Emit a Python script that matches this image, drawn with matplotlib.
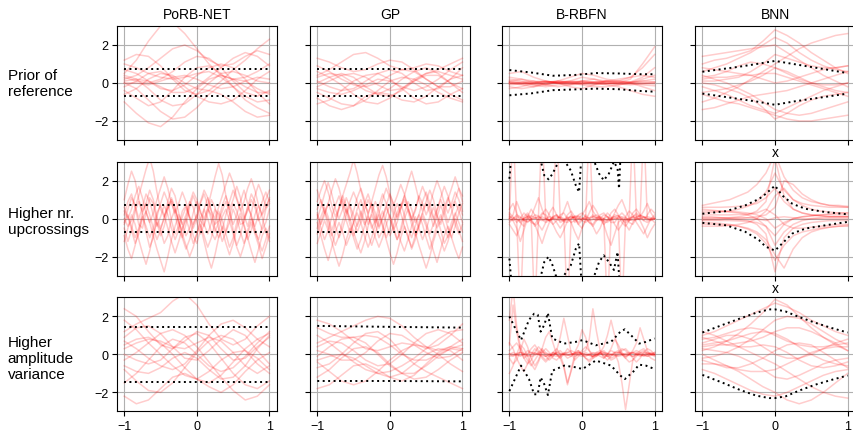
import numpy as np
import matplotlib
matplotlib.use("Agg")
import matplotlib.pyplot as plt

plt.rcParams['font.family'] = ['Liberation Sans', 'DejaVu Sans']

titles = ["PoRB-NET", "GP", "B-RBFN", "BNN"]
row_labels = ["Prior of\nreference", "Higher nr.\nupcrossings", "Higher\namplitude\nvariance"]

# x grids of the sampled functions
x13 = np.linspace(-1, 1, 13)
x17 = np.linspace(-1, 1, 17)
x41 = np.linspace(-1, 1, 41)

# ---------------- row 1: prior of reference ----------------
porb_prior = [
    [0.2, 0.4, 0.8, 1.3, 1.8, 2.0, 1.7, 1.2, 0.9, 1.0, 1.4, 1.7, 1.5],
    [0.0, -0.3, -0.9, -1.5, -1.9, -1.8, -1.3, -0.6, -0.1, 0.2, 0.1, -0.3, -0.6],
    [1.0, 0.8, 0.5, 0.3, 0.2, 0.3, 0.5, 0.6, 0.3, -0.2, -0.7, -1.0, -0.9],
    [0.5, 1.2, 2.2, 3.0, 3.2, 2.6, 1.8, 1.0, 0.4, 0.2, 0.3, 0.6, 1.0],
    [-0.4, -0.8, -1.2, -1.0, -0.4, 0.3, 0.8, 0.9, 0.5, -0.2, -0.9, -1.3, -1.6],
    [0.1, 0.2, 0.1, -0.2, -0.5, -0.5, -0.2, 0.3, 0.8, 1.3, 1.6, 1.4, 0.9],
    [-1.0, -1.6, -2.1, -2.3, -1.8, -1.0, -0.3, 0.2, 0.4, 0.2, -0.2, -0.5, -0.5],
    [0.7, 0.5, 0.1, -0.3, -0.4, -0.1, 0.4, 0.8, 1.0, 0.8, 0.2, -0.5, -1.1],
    [0.3, 0.1, 0.0, 0.2, 0.6, 1.1, 1.4, 1.3, 0.8, 0.1, -0.5, -0.7, -0.4],
    [-0.2, 0.1, 0.5, 0.6, 0.3, -0.2, -0.7, -1.0, -1.1, -0.9, -0.4, 0.2, 0.6],
    [1.2, 1.5, 1.4, 0.9, 0.2, -0.4, -0.6, -0.4, 0.1, 0.7, 1.2, 1.8, 2.3],
    [-0.6, -0.3, 0.2, 0.5, 0.4, 0.0, -0.3, -0.4, -0.6, -1.0, -1.5, -1.8, -1.7],
    [0.0, 0.0, -0.1, 0.1, 0.3, 0.4, 0.2, -0.1, -0.3, -0.2, 0.1, 0.3, 0.2],
    [0.4, 0.2, -0.3, -0.9, -1.2, -1.1, -0.6, 0.0, 0.5, 0.6, 0.4, 0.1, 0.0],
]
gp_prior = [
    [0.4, 0.7, 1.1, 1.5, 1.6, 1.3, 0.9, 0.7, 0.8, 1.0, 0.9, 0.6, 0.4],
    [-0.5, -0.8, -1.1, -1.2, -0.9, -0.4, 0.1, 0.3, 0.2, -0.1, -0.5, -0.8, -1.0],
    [0.9, 0.6, 0.2, -0.1, -0.2, 0.0, 0.4, 0.7, 0.6, 0.2, -0.2, -0.2, 0.1],
    [-1.1, -0.9, -0.4, 0.1, 0.4, 0.5, 0.2, -0.3, -0.8, -1.1, -1.0, -0.6, -0.3],
    [0.1, -0.2, -0.4, -0.3, 0.1, 0.5, 0.7, 0.5, 0.0, -0.4, -0.3, 0.2, 0.8],
    [-0.2, 0.1, 0.4, 0.5, 0.3, -0.1, -0.4, -0.3, 0.1, 0.5, 0.6, 0.4, 0.2],
    [0.6, 0.3, -0.1, -0.6, -1.0, -1.1, -0.8, -0.3, 0.2, 0.5, 0.7, 1.0, 1.3],
    [-0.8, -1.2, -1.4, -1.2, -0.7, -0.5, -0.6, -0.9, -1.0, -0.7, -0.2, 0.2, 0.4],
    [1.3, 1.1, 0.8, 0.6, 0.7, 1.0, 1.2, 1.1, 0.7, 0.2, -0.2, -0.6, -0.9],
    [0.0, 0.3, 0.5, 0.3, -0.2, -0.6, -0.7, -0.4, 0.1, 0.4, 0.4, 0.0, -0.5],
    [-0.3, -0.5, -0.6, -0.4, -0.1, 0.2, 0.1, -0.2, -0.4, -0.2, 0.2, 0.7, 1.1],
    [0.3, 0.5, 0.4, 0.0, -0.4, -0.6, -0.3, 0.2, 0.6, 0.8, 0.5, 0.0, -0.3],
]
rbfn_prior = [
    [0.0, 0.05, 0.1, 0.05, 0.0, -0.05, 0.0, 0.05, 0.05, 0.0, -0.05, 0.0, 0.05],
    [-0.1, -0.05, 0.0, 0.05, 0.05, 0.0, -0.05, -0.1, -0.05, 0.0, 0.05, 0.1, 0.05],
    [0.5, 0.6, 0.3, 0.1, 0.0, 0.1, 0.3, 0.2, 0.0, -0.1, 0.0, 0.2, 0.4],
    [-0.3, -0.2, 0.0, 0.1, 0.0, -0.2, -0.3, -0.1, 0.1, 0.2, 0.3, 0.8, 1.5],
    [0.1, 0.2, 0.1, -0.1, -0.2, -0.1, 0.1, 0.2, 0.1, 0.0, 0.2, 1.0, 1.9],
    [0.2, 0.1, -0.1, -0.2, -0.1, 0.0, 0.1, 0.0, -0.1, -0.2, -0.4, -0.6, -0.7],
    [0.0, -0.1, -0.2, -0.1, 0.1, 0.3, 0.5, 0.4, 0.2, 0.1, 0.0, 0.1, 0.2],
    [0.05, 0.0, -0.05, 0.0, 0.05, 0.1, 0.05, 0.0, -0.05, 0.0, 0.05, 0.0, -0.05],
    [-0.05, 0.0, 0.05, 0.1, 0.0, -0.1, -0.05, 0.0, 0.1, 0.05, 0.0, -0.1, -0.15],
    [0.3, 0.2, 0.0, -0.1, 0.0, 0.05, 0.0, -0.05, 0.0, 0.1, 0.3, 0.4, 0.3],
    [-0.2, -0.3, -0.2, 0.0, 0.1, 0.0, -0.1, -0.2, -0.2, -0.1, 0.0, -0.2, -0.4],
    [0.1, 0.0, 0.0, 0.05, 0.1, 0.05, 0.0, 0.05, 0.1, 0.1, 0.05, 0.3, 0.8],
    [0.0, -0.05, -0.1, -0.05, 0.0, 0.05, 0.1, 0.05, 0.0, -0.05, -0.1, -0.05, 0.0],
]
bnn_prior = [
    [0.6, 0.8, 1.0, 1.3, 1.6, 2.0, 2.4, 2.1, 1.6, 1.2, 0.9, 0.7, 0.6],
    [-0.2, -0.4, -0.6, -0.9, -1.2, -1.4, -1.6, -1.3, -1.0, -0.7, -0.4, -0.2, 0.0],
    [1.4, 1.5, 1.6, 1.7, 1.8, 1.9, 2.0, 1.6, 1.2, 0.8, 0.4, 0.1, -0.2],
    [-1.0, -0.8, -0.5, -0.2, 0.2, 0.6, 1.0, 1.4, 1.8, 2.1, 2.3, 2.5, 2.6],
    [0.2, 0.3, 0.3, 0.4, 0.4, 0.5, 0.5, 0.3, 0.1, -0.1, -0.3, -0.5, -0.7],
    [0.4, 0.2, 0.0, -0.3, -0.6, -1.0, -1.4, -1.6, -1.7, -1.6, -1.4, -1.2, -1.0],
    [-0.5, -0.4, -0.3, -0.1, 0.1, 0.4, 0.8, 0.6, 0.3, 0.0, -0.2, -0.4, -0.5],
    [1.0, 1.2, 1.3, 1.5, 1.7, 2.2, 2.8, 2.5, 2.1, 1.6, 1.2, 0.8, 0.5],
    [0.0, -0.1, -0.3, -0.5, -0.8, -1.3, -1.9, -1.6, -1.2, -0.9, -0.7, -0.6, -0.5],
    [0.8, 0.7, 0.6, 0.5, 0.4, 0.2, 0.0, 0.1, 0.3, 0.5, 0.7, 0.8, 0.9],
    [-1.4, -1.3, -1.1, -0.9, -0.7, -0.6, -0.5, -0.4, -0.2, 0.0, 0.2, 0.4, 0.6],
    [0.3, 0.4, 0.6, 0.9, 1.1, 1.0, 0.8, 0.5, 0.2, 0.0, -0.1, -0.1, 0.0],
    [-0.6, -0.8, -1.0, -1.1, -1.3, -1.5, -1.7, -1.9, -2.0, -2.0, -1.9, -1.8, -1.7],
    [0.1, 0.1, 0.2, 0.3, 0.6, 1.0, 1.5, 1.3, 1.1, 0.9, 0.8, 0.8, 0.9],
]

# ---------------- row 2: higher nr. upcrossings ----------------
porb_up = [
    [0.2, 0.9, 1.3, 0.6, -0.3, -0.5, 0.3, 1.1, 0.8, -0.2, -0.9, -0.4, 0.5, 0.9, 0.2, -0.6, -1.0, -0.3, 0.6, 1.2, 0.7, -0.1, -0.4, 0.3, 1.0, 0.6, -0.5, -1.2, -0.7, 0.2, 0.8, 0.4, -0.3, -0.2, 0.6, 1.3, 0.9, 0.0, -0.6, -0.2, 0.5],
    [-0.5, -1.2, -0.6, 0.4, 0.9, 0.3, -0.7, -1.5, -1.0, 0.1, 0.8, 1.4, 0.9, -0.1, -0.8, -0.4, 0.4, 0.7, 0.0, -0.9, -1.3, -0.6, 0.5, 1.1, 0.4, -0.3, -0.1, 0.7, 1.2, 0.5, -0.6, -1.4, -0.9, 0.0, 0.6, 0.2, -0.7, -1.1, -0.4, 0.5, 0.8],
    [1.0, 1.8, 2.5, 2.0, 1.0, 0.4, 0.8, 1.5, 1.0, 0.1, -0.5, 0.0, 0.9, 1.6, 1.2, 0.3, -0.3, 0.2, 0.9, 0.6, -0.2, -0.8, -0.3, 0.6, 1.4, 2.2, 2.9, 2.3, 1.2, 0.5, 1.0, 1.7, 1.1, 0.2, -0.4, 0.3, 1.2, 1.8, 1.3, 0.6, 1.0],
    [-1.2, -0.5, 0.2, -0.3, -1.1, -1.8, -2.4, -1.7, -0.8, -0.2, -0.6, -1.3, -0.9, 0.0, 0.5, -0.1, -1.0, -1.6, -1.1, -0.3, 0.2, -0.4, -1.2, -2.0, -2.6, -1.9, -1.0, -0.4, -0.8, -1.5, -1.0, -0.2, 0.3, -0.3, -1.0, -1.7, -2.3, -1.6, -0.9, -0.5, -1.0],
    [0.0, -0.4, -0.1, 0.6, 1.2, 1.9, 2.6, 3.2, 2.5, 1.4, 0.5, 0.1, 0.6, 1.0, 0.5, -0.2, -0.6, 0.0, 0.8, 1.4, 1.0, 0.3, 0.0, 0.5, 0.2, -0.5, -1.0, -0.6, 0.2, 0.9, 1.5, 1.0, 0.4, 0.9, 1.6, 2.1, 1.5, 0.7, 0.2, 0.6, 1.1],
    [0.6, 0.1, -0.6, -1.3, -0.8, 0.0, 0.4, -0.2, -0.9, -1.6, -2.2, -2.8, -2.0, -1.1, -0.4, 0.2, -0.3, -0.9, -0.5, 0.3, 0.9, 0.4, -0.3, -0.8, -0.2, 0.5, 0.2, -0.6, -1.3, -1.9, -1.3, -0.5, 0.1, -0.4, -1.1, -0.6, 0.2, 0.7, 0.1, -0.7, -1.2],
    [-0.2, 0.5, 1.1, 0.7, 0.0, 0.6, 1.3, 0.9, 0.2, -0.4, 0.1, 0.7, 0.2, -0.5, -1.1, -0.6, 0.1, 0.6, 0.1, -0.5, 0.0, 0.8, 1.3, 0.7, -0.1, -0.7, -0.2, 0.4, 0.9, 0.3, -0.3, 0.2, 0.9, 1.5, 0.8, 0.1, -0.4, 0.2, 0.9, 1.4, 0.9],
    [-0.9, -1.6, -2.1, -1.4, -0.6, 0.1, -0.4, -1.0, -0.5, 0.3, 0.7, 0.2, -0.5, -1.2, -1.8, -1.2, -0.5, 0.0, -0.6, -1.3, -0.8, 0.0, 0.5, 0.0, -0.7, -1.1, -0.6, 0.1, 0.5, -0.1, -0.8, -1.5, -2.0, -1.4, -0.6, 0.0, -0.5, -1.2, -1.7, -1.1, -0.4],
    [0.4, 0.0, 0.5, 1.2, 1.7, 1.1, 0.3, -0.2, 0.3, 1.0, 1.6, 2.2, 1.6, 0.8, 0.3, 0.8, 1.4, 0.9, 0.1, -0.3, 0.2, 0.9, 1.5, 1.1, 0.4, 0.0, 0.6, 1.2, 1.8, 2.4, 1.9, 1.1, 0.5, 0.0, 0.4, 1.0, 0.6, -0.1, 0.3, 1.0, 1.5],
    [-0.3, 0.2, -0.4, -1.0, -0.5, 0.3, 0.8, 0.2, -0.5, -1.1, -0.6, 0.1, 0.6, 1.1, 0.6, -0.2, -0.8, -1.4, -2.0, -1.5, -0.8, -0.3, -0.9, -1.5, -1.0, -0.2, 0.4, -0.1, -0.7, -0.2, 0.5, 0.0, -0.7, -1.3, -0.8, -0.2, -0.8, -1.4, -2.1, -1.5, -0.8],
]
gp_up = [
    [0.5, 1.0, 0.4, -0.4, -0.9, -0.3, 0.6, 1.2, 0.7, -0.1, 0.4, 1.1, 1.6, 1.0, 0.2, -0.5, -0.1, 0.7, 1.3, 0.8, 0.0, -0.6, -1.1, -0.5, 0.3, 0.9, 0.5, -0.2, 0.2, 0.9, 1.4, 0.8, 0.1, -0.5, -0.1, 0.6, 1.1, 0.5, -0.3, -0.8, -0.3],
    [-0.8, -0.2, 0.4, -0.1, -0.8, -1.4, -0.9, -0.1, 0.5, 0.0, -0.7, -1.3, -1.8, -1.2, -0.4, 0.2, -0.3, -1.0, -0.6, 0.2, 0.7, 0.2, -0.5, -1.2, -1.7, -1.1, -0.4, 0.1, -0.5, -1.1, -0.6, 0.1, 0.6, 0.1, -0.6, -1.3, -0.9, -0.2, 0.3, -0.2, -0.7],
    [1.5, 0.9, 0.3, 0.8, 1.5, 2.1, 1.6, 0.8, 0.3, 0.9, 1.4, 0.9, 0.2, -0.3, 0.2, 0.9, 1.6, 2.3, 2.8, 2.2, 1.3, 0.7, 1.2, 1.8, 1.3, 0.6, 0.0, 0.5, 1.2, 0.8, 0.2, 0.7, 1.4, 2.0, 1.5, 0.8, 0.3, 0.8, 1.4, 1.0, 0.4],
    [-0.2, -0.9, -1.6, -2.2, -1.5, -0.7, -0.2, -0.7, -1.4, -0.9, -0.2, 0.3, -0.2, -0.9, -1.5, -1.0, -0.3, 0.2, -0.4, -1.1, -1.8, -2.4, -1.8, -1.0, -0.4, -0.9, -1.6, -1.1, -0.4, 0.1, -0.4, -1.0, -1.7, -2.3, -1.6, -0.9, -0.4, -1.0, -1.6, -2.1, -1.5],
    [0.0, 0.6, 1.3, 1.9, 1.3, 0.5, 0.0, 0.5, 1.1, 0.6, -0.2, -0.7, -0.2, 0.5, 1.0, 0.5, -0.2, 0.3, 1.0, 1.6, 1.1, 0.4, 0.0, 0.6, 1.2, 1.9, 2.5, 1.8, 1.0, 0.4, 0.9, 1.5, 1.0, 0.2, -0.3, 0.3, 1.0, 1.6, 2.2, 1.6, 0.9],
    [-1.3, -0.7, -0.1, -0.6, -1.2, -1.9, -2.5, -1.9, -1.1, -0.5, -1.0, -1.6, -1.1, -0.4, 0.1, -0.3, -1.0, -1.5, -1.0, -0.3, 0.2, -0.4, -1.1, -0.7, 0.0, 0.5, 0.0, -0.7, -1.4, -2.0, -2.6, -2.0, -1.2, -0.6, -1.1, -1.7, -1.2, -0.5, 0.0, -0.6, -1.2],
    [0.3, -0.3, 0.2, 0.8, 0.3, -0.4, -1.0, -0.5, 0.2, 0.7, 0.2, -0.4, 0.1, 0.8, 1.3, 0.7, 0.0, -0.5, 0.0, 0.6, 0.1, -0.6, -0.2, 0.5, 1.0, 0.4, -0.3, -0.9, -0.4, 0.3, 0.8, 0.3, -0.4, 0.1, 0.7, 0.2, -0.5, -1.0, -0.4, 0.3, 0.8],
    [0.9, 1.5, 2.0, 1.4, 0.7, 0.1, 0.6, 1.2, 1.8, 2.4, 3.1, 2.4, 1.5, 0.8, 0.3, 0.8, 0.3, -0.4, 0.1, 0.7, 1.3, 0.8, 0.1, 0.6, 1.2, 0.6, -0.1, 0.4, 1.1, 1.7, 1.2, 0.5, 0.0, 0.5, 1.1, 1.7, 1.2, 0.6, 1.0, 1.6, 1.2],
    [-0.5, 0.1, 0.6, 0.1, -0.6, -0.1, 0.5, 1.0, 0.4, -0.3, -0.9, -0.3, 0.4, -0.1, -0.8, -1.4, -0.8, -0.1, 0.4, -0.2, -0.9, -0.4, 0.3, 0.8, 0.2, -0.5, -1.0, -0.4, 0.2, -0.3, -1.0, -1.6, -1.0, -0.3, 0.2, -0.4, -1.0, -0.5, 0.2, 0.7, 0.2],
    [0.2, -0.5, -1.1, -0.6, 0.1, 0.7, 1.2, 0.6, -0.1, -0.7, -0.2, 0.5, 1.0, 0.4, -0.3, 0.3, 0.9, 0.4, -0.3, -1.0, -0.5, 0.2, 0.8, 0.3, -0.4, -1.0, -1.5, -0.9, -0.2, 0.3, -0.2, -0.8, -0.3, 0.4, 1.0, 0.5, -0.2, 0.3, 0.9, 0.4, -0.2],
]
rbfn_up = [
    [0.1, 0.05, -0.05, -0.1, 0.0, 0.1, 0.15, 0.05, -0.05, -0.1, 0.0, 0.1, 0.05, -0.05, -0.1, -0.05, 0.05, 0.1, 0.05, 0.0, -0.05, 0.0, 0.05, 0.1, 0.05, -0.05, -0.1, -0.05, 0.05, 0.1, 0.15, 0.05, -0.05, -0.1, 0.0, 0.1, 0.15, 0.1, 0.0, -0.05, 0.0],
    [0.5, 0.8, 0.3, -0.2, -0.4, 0.1, 0.5, 0.2, -0.3, -0.6, -0.2, 0.3, 0.6, 0.2, -0.2, -0.1, 0.2, 0.4, 0.1, -0.3, -0.5, -0.1, 0.3, 0.7, 0.4, 0.0, -0.3, -0.1, 0.3, 0.5, 0.2, -0.2, -0.4, -0.1, 0.3, 0.5, 0.2, -0.1, 0.2, 0.5, 0.3],
    [-0.3, -0.6, -0.9, -0.4, 0.1, 0.3, 0.0, -0.4, -0.2, 0.2, 0.5, 0.2, -0.3, -0.7, -1.0, -0.6, -0.1, 0.2, 0.0, -0.3, -0.1, 0.2, 0.0, -0.4, -0.8, -0.5, 0.0, 0.3, 0.1, -0.3, -0.6, -0.3, 0.1, 0.4, 0.2, -0.2, -0.5, -0.8, -0.4, 0.0, -0.2],
    [0.0, 0.2, 0.9, 0.4, -0.1, 0.0, 0.1, 0.6, 1.1, 0.5, 0.0, -0.1, 0.1, 0.2, 0.0, 0.4, 0.9, 0.3, -0.2, 0.0, 0.2, 0.5, 0.9, 0.4, 0.1, 0.0, 0.2, 0.1, -0.1, 0.3, 0.7, 1.0, 0.5, 0.0, 0.1, 0.3, 0.1, 0.4, 0.8, 0.3, 0.0],
    [0.2, -0.1, -0.5, -1.2, -0.6, 0.0, -0.1, -0.3, -0.8, -1.3, -0.7, -0.2, 0.0, -0.2, -0.5, -0.2, 0.1, -0.2, -0.7, -1.1, -0.5, 0.0, -0.2, -0.4, -0.1, 0.1, -0.3, -0.9, -1.4, -0.8, -0.2, 0.0, -0.3, -0.6, -0.2, 0.1, -0.1, -0.5, -1.0, -0.6, -0.3],
    [0.0, 5.0, 0.0, -0.2, 0.0, 0.2, 0.0, -5.0, 0.0, 0.1, 0.0, -0.1, 0.0, 5.0, 0.0, -0.1, 0.0, 0.1, 0.0, -0.2, 0.0, 0.1, 0.0, 0.2, 0.0, -0.1, 0.0, -5.0, 0.0, 0.1, 0.0, 0.0, -0.1, 0.0, 5.0, 0.0, 0.0, 0.1, 0.0, -0.1, 0.0],
    [0.0, -0.1, 0.0, -5.0, 0.0, 0.1, 0.0, 0.0, 0.1, 5.0, 0.0, -0.1, 0.0, 0.0, 0.1, 0.0, -5.0, 0.0, 0.1, 0.0, 0.0, 0.0, 5.0, 0.0, -0.1, 0.0, 0.0, 0.1, 0.0, 0.0, 0.0, -5.0, 0.0, 0.0, 0.1, 0.0, 0.0, 5.0, 0.0, 0.0, 0.0],
    [-0.1, 0.0, 0.1, 0.05, -0.05, -0.15, -0.05, 0.05, 0.1, 0.0, -0.1, -0.05, 0.05, 0.1, 0.05, -0.05, -0.1, 0.0, 0.1, 0.15, 0.05, -0.05, -0.1, -0.05, 0.05, 0.1, 0.0, -0.1, -0.05, 0.0, 0.05, 0.1, 0.05, -0.05, -0.1, -0.05, 0.0, 0.05, 0.1, 0.05, 0.0],
    [0.3, 0.1, -0.2, 0.0, 0.3, 0.1, -0.2, -0.3, 0.0, 0.3, 0.2, -0.1, -0.3, -0.1, 0.2, 0.3, 0.0, -0.2, -0.1, 0.2, 0.3, 0.1, -0.2, -0.3, 0.0, 0.2, 0.3, 0.1, -0.2, -0.2, 0.1, 0.3, 0.1, -0.2, -0.3, 0.0, 0.2, 0.1, -0.1, 0.0, 0.2],
    [-0.2, 0.0, 0.2, 0.1, -0.1, -0.2, 0.0, 0.2, 0.15, -0.05, -0.2, -0.1, 0.1, 0.2, 0.0, -0.15, -0.2, 0.0, 0.15, 0.1, -0.1, -0.2, -0.05, 0.1, 0.2, 0.05, -0.15, -0.2, 0.0, 0.2, 0.15, -0.05, -0.2, -0.1, 0.1, 0.2, 0.05, -0.1, -0.2, -0.05, 0.1],
]
bnn_up = [
    [0.3, 0.32, 0.35, 0.4, 0.5, 0.65, 0.9, 1.4, 2.4, 1.5, 1.0, 0.8, 0.7, 0.65, 0.6, 0.6, 0.6],
    [-0.2, -0.22, -0.25, -0.3, -0.4, -0.55, -0.8, -1.3, -2.2, -1.4, -0.9, -0.7, -0.6, -0.5, -0.45, -0.4, -0.4],
    [0.6, 0.6, 0.6, 0.62, 0.65, 0.7, 0.8, 1.1, 1.6, 0.9, 0.5, 0.3, 0.2, 0.15, 0.1, 0.1, 0.1],
    [0.0, 0.0, 0.02, 0.05, 0.1, 0.2, 0.4, 0.9, 3.2, 1.2, 0.5, 0.3, 0.2, 0.15, 0.1, 0.1, 0.1],
    [-0.1, -0.1, -0.1, -0.1, -0.12, -0.15, -0.2, -0.4, -0.9, -0.3, 0.0, 0.1, 0.15, 0.2, 0.2, 0.2, 0.2],
    [0.1, 0.1, 0.05, 0.0, -0.05, -0.1, -0.3, -0.8, -2.8, -1.0, -0.5, -0.3, -0.2, -0.15, -0.1, -0.1, -0.1],
    [-0.4, -0.4, -0.4, -0.35, -0.3, -0.2, 0.0, 0.4, 1.2, 1.6, 1.0, 0.7, 0.5, 0.4, 0.35, 0.3, 0.3],
    [0.2, 0.2, 0.2, 0.2, 0.22, 0.25, 0.3, 0.5, 0.2, -0.3, -0.5, -0.5, -0.45, -0.4, -0.35, -0.3, -0.3],
    [0.5, 0.45, 0.4, 0.35, 0.3, 0.2, 0.0, -0.4, -1.4, -0.7, -0.3, -0.1, 0.0, 0.05, 0.1, 0.1, 0.1],
    [-0.05, -0.05, -0.05, 0.0, 0.0, 0.05, 0.1, 0.2, 0.6, 2.0, 1.8, 1.3, 1.0, 0.8, 0.7, 0.65, 0.6],
    [0.05, 0.05, 0.05, 0.05, 0.05, 0.05, 0.0, -0.1, 0.05, 0.1, 0.05, 0.0, 0.0, 0.0, 0.0, 0.0, 0.0],
    [0.7, 0.8, 0.9, 1.0, 1.2, 1.4, 1.8, 2.4, 3.4, 2.2, 1.5, 1.1, 0.9, 0.8, 0.7, 0.7, 0.65],
    [-0.3, -0.3, -0.32, -0.35, -0.4, -0.5, -0.7, -1.1, -1.9, -2.6, -1.6, -1.0, -0.7, -0.55, -0.45, -0.4, -0.35],
    [0.4, 0.4, 0.4, 0.38, 0.35, 0.3, 0.2, 0.0, -0.5, -0.2, 0.0, 0.1, 0.15, 0.2, 0.25, 0.3, 0.3],
]

# ---------------- row 3: higher amplitude variance ----------------
porb_amp = [
    [2.4, 2.0, 1.2, 0.5, 0.3, 0.7, 1.2, 1.0, 0.3, -0.3, -0.2, 0.4, 0.9],
    [0.5, 0.8, 0.9, 0.6, 0.0, -0.7, -1.3, -1.5, -1.1, -0.4, 0.3, 0.8, 1.1],
    [-0.8, -1.4, -1.9, -2.0, -1.5, -0.7, 0.1, 0.7, 1.0, 0.8, 0.2, -0.5, -1.0],
    [1.2, 1.6, 1.9, 2.2, 2.8, 3.2, 2.6, 1.6, 0.8, 0.5, 0.8, 1.5, 2.0],
    [0.0, -0.3, -0.5, -0.3, 0.3, 0.9, 1.1, 0.6, -0.2, -1.0, -1.6, -1.8, -1.4],
    [-1.5, -1.0, -0.3, 0.4, 0.8, 0.6, 0.0, -0.6, -0.9, -0.7, -0.1, 0.6, 1.2],
    [0.7, 0.3, -0.2, -0.6, -0.8, -0.5, 0.2, 1.0, 1.6, 1.8, 1.4, 0.8, 0.4],
    [-0.3, 0.1, 0.6, 1.1, 1.3, 1.0, 0.4, -0.4, -1.2, -1.9, -2.4, -2.2, -1.6],
    [1.8, 1.3, 0.6, 0.0, -0.6, -1.1, -1.3, -0.9, -0.3, 0.1, 0.2, -0.2, -0.8],
    [-2.2, -2.6, -2.4, -1.8, -1.2, -1.0, -1.3, -1.7, -2.0, -1.6, -0.9, -0.3, 0.1],
    [0.3, 0.6, 0.8, 0.7, 0.4, 0.3, 0.6, 0.9, 0.7, 0.1, -0.6, -1.0, -0.6],
    [-0.6, -0.9, -1.0, -0.7, -0.2, 0.1, -0.2, -0.8, -1.3, -1.2, -0.6, 0.3, 1.0],
    [0.9, 1.4, 1.5, 1.1, 0.4, -0.2, -0.3, 0.2, 0.8, 1.3, 1.0, 0.2, -0.5],
]
gp_amp = [
    [1.8, 1.6, 1.2, 0.7, 0.3, 0.2, 0.4, 0.6, 0.5, 0.1, -0.2, -0.1, 0.3],
    [-0.4, -0.9, -1.4, -1.6, -1.4, -0.9, -0.3, 0.2, 0.5, 0.4, 0.0, -0.5, -0.9],
    [0.6, 0.9, 1.2, 1.5, 1.8, 2.0, 1.9, 1.5, 0.9, 0.4, 0.2, 0.4, 0.8],
    [-1.2, -0.8, -0.2, 0.3, 0.4, 0.1, -0.5, -1.0, -1.3, -1.2, -0.8, -0.3, 0.1],
    [0.2, 0.0, -0.3, -0.3, 0.1, 0.7, 1.1, 1.0, 0.6, 0.3, 0.5, 1.0, 1.6],
    [-0.1, 0.4, 0.8, 0.9, 0.6, 0.0, -0.6, -1.0, -1.0, -0.6, -0.1, 0.3, 0.5],
    [1.0, 0.6, 0.1, -0.4, -0.8, -1.0, -0.9, -0.6, -0.2, 0.3, 0.8, 1.2, 1.3],
    [-1.8, -1.6, -1.1, -0.6, -0.5, -0.8, -1.2, -1.4, -1.1, -0.5, 0.1, 0.4, 0.3],
    [0.4, 0.7, 0.6, 0.2, -0.3, -0.6, -0.5, 0.0, 0.6, 1.1, 1.3, 1.1, 0.6],
    [-0.7, -0.5, 0.0, 0.6, 1.1, 1.2, 0.8, 0.1, -0.5, -0.9, -1.2, -1.5, -1.8],
    [1.4, 1.1, 0.9, 0.9, 1.0, 0.9, 0.5, 0.0, -0.3, -0.3, 0.0, 0.3, 0.2],
    [-0.3, -0.1, 0.0, -0.2, -0.6, -1.0, -1.2, -1.0, -0.5, 0.0, 0.3, 0.2, -0.3],
]
rbfn_amp = [
    [0.05, 0.0, -0.05, -0.05, 0.0, 0.05, 0.1, 0.05, 0.0, -0.05, -0.1, -0.05, 0.0, 0.05, 0.05, 0.0, -0.05, 0.0, 0.05, 0.1, 0.05, 0.0, -0.05, -0.1, -0.05, 0.0, 0.05, 0.05, 0.0, -0.05, -0.05, 0.0, 0.05, 0.1, 0.05, 0.0, -0.05, -0.05, 0.0, 0.05, 0.0],
    [0.5, 2.6, 1.2, 0.2, -0.2, 0.0, 0.3, 0.5, 0.2, 0.0, -0.1, 0.0, 0.1, 0.0, -0.1, 0.0, 0.1, 0.2, 0.1, 0.0, 0.0, 0.1, 0.0, -0.1, 0.0, 0.1, 0.0, -0.1, 0.0, 0.1, 0.1, 0.0, -0.1, 0.0, 0.1, 0.2, 0.1, 0.0, -0.1, 0.0, 0.1],
    [-0.2, -0.5, -0.3, 0.2, 0.8, 0.4, -0.2, -0.6, -0.3, 0.3, 0.9, 1.2, 0.6, 0.0, -0.2, 0.0, 0.3, 0.1, -0.1, 0.0, 0.2, 0.4, 0.2, 0.0, -0.1, 0.1, 0.2, 0.0, -0.2, -0.1, 0.1, 0.3, 0.2, 0.0, -0.1, 0.0, 0.2, 0.3, 0.1, 0.0, 0.1],
    [0.0, 0.1, 0.0, -0.1, 0.0, 0.2, 0.1, 0.0, 0.1, 0.3, 0.1, 0.0, -0.1, 0.2, 0.9, 1.9, 1.0, 0.1, -0.3, -0.1, 0.1, 0.2, 0.8, 2.4, 1.2, 0.2, -0.2, 0.0, 0.3, 0.8, 0.5, 0.1, -0.1, 0.0, 0.1, 0.0, -0.1, 0.0, 0.1, 0.0, 0.0],
    [0.0, -0.1, 0.0, 0.1, 0.0, -0.1, 0.0, 0.1, 0.0, -0.1, -0.3, -0.1, 0.1, 0.0, -0.2, -0.7, -1.6, -0.8, 0.0, 0.2, 0.0, -0.1, 0.0, 0.1, 0.0, -0.1, -0.2, 0.0, 0.2, 0.1, -0.4, -1.5, -2.9, -1.6, -0.3, 0.1, 0.0, -0.1, 0.0, 0.1, 0.0],
    [-1.0, -0.6, 0.0, 0.5, 0.3, -0.1, -0.5, -0.8, -0.4, 0.1, 0.3, 0.1, -0.2, -0.3, -0.1, 0.1, 0.0, -0.1, 0.1, 0.5, 1.3, 0.9, 0.2, -0.2, -0.1, 0.1, 0.4, 1.0, 1.8, 1.0, 0.3, 0.0, -0.2, 0.0, 0.2, 0.6, 1.4, 0.8, 0.2, 0.0, -0.1],
    [0.2, 0.4, 0.6, 0.3, -0.2, -0.5, -0.3, 0.1, 0.4, 0.2, -0.1, -0.3, -0.1, 0.1, 0.2, 0.0, -0.2, -0.1, 0.1, 0.2, 0.0, -0.2, -0.3, -0.1, 0.1, 0.2, 0.1, -0.1, -0.3, -0.2, 0.0, 0.2, 0.3, 0.1, -0.2, -0.4, -0.2, 0.1, 0.3, 0.2, 0.0],
    [-0.1, -0.05, 0.05, 0.1, 0.05, -0.05, -0.1, -0.05, 0.05, 0.1, 0.05, 0.0, -0.05, -0.1, -0.05, 0.05, 0.1, 0.05, 0.0, -0.05, -0.1, -0.05, 0.0, 0.05, 0.1, 0.05, -0.05, -0.1, -0.05, 0.05, 0.1, 0.05, 0.0, -0.05, -0.1, -0.05, 0.05, 0.1, 0.05, 0.0, -0.05],
    [0.6, 0.3, -0.2, -0.6, -0.9, -0.5, 0.0, 0.3, 0.1, -0.2, -0.4, -0.2, 0.1, 0.3, 0.0, -0.6, -1.5, -0.9, -0.2, 0.1, 0.0, -0.2, -0.4, -0.2, 0.0, 0.1, -0.1, -0.3, -0.1, 0.1, 0.2, 0.0, -0.2, -0.4, -0.3, -0.1, 0.1, 0.2, 0.0, -0.2, -0.3],
    [1.8, 3.5, 1.5, 0.4, 0.0, -0.3, -0.6, -0.3, 0.0, 0.2, 0.0, -0.1, 0.0, 0.1, 0.05, 0.0, -0.05, 0.0, 0.05, 0.1, 0.05, 0.0, -0.05, -0.1, 0.0, 0.05, 0.1, 0.05, 0.0, -0.05, -0.1, -0.05, 0.0, 0.05, 0.1, 0.05, 0.0, -0.05, -0.1, -0.05, 0.0],
]
bnn_amp = [
    [1.0, 1.2, 1.5, 1.8, 2.1, 2.4, 2.7, 2.5, 2.2, 1.8, 1.5, 1.2, 1.0],
    [0.5, 0.6, 0.7, 0.9, 1.1, 1.2, 1.1, 0.8, 0.4, 0.0, -0.3, -0.5, -0.6],
    [0.8, 0.9, 1.1, 1.3, 1.4, 1.3, 1.0, 0.7, 0.5, 0.4, 0.4, 0.5, 0.6],
    [-0.8, -1.0, -1.3, -1.6, -1.9, -2.1, -2.2, -2.0, -1.7, -1.4, -1.1, -0.9, -0.8],
    [0.3, 0.2, 0.1, -0.1, -0.4, -0.8, -1.2, -1.3, -1.1, -0.8, -0.5, -0.3, -0.2],
    [0.6, 0.8, 1.0, 1.0, 0.8, 0.4, 0.0, -0.2, -0.2, 0.0, 0.3, 0.6, 0.8],
    [-0.2, -0.1, 0.1, 0.4, 0.8, 1.3, 1.8, 2.0, 1.9, 1.6, 1.2, 0.8, 0.5],
    [1.2, 1.0, 0.7, 0.4, 0.1, -0.2, -0.5, -0.9, -1.3, -1.7, -2.0, -2.2, -2.3],
    [0.0, -0.3, -0.6, -0.8, -0.9, -0.9, -0.8, -0.5, -0.2, 0.1, 0.3, 0.4, 0.4],
    [0.4, 0.5, 0.5, 0.6, 0.7, 0.9, 1.2, 1.4, 1.4, 1.2, 0.9, 0.6, 0.2],
    [-0.5, -0.5, -0.6, -0.9, -1.3, -1.7, -2.0, -2.4, -2.6, -2.4, -2.0, -1.5, -1.0],
    [0.9, 0.7, 0.5, 0.4, 0.4, 0.5, 0.4, 0.1, -0.3, -0.6, -0.7, -0.6, -0.4],
    [0.2, 0.4, 0.7, 1.1, 1.6, 2.2, 2.9, 2.6, 2.0, 1.4, 0.9, 0.5, 0.2],
    [-0.3, -0.5, -0.7, -0.7, -0.5, -0.2, 0.2, 0.5, 0.6, 0.5, 0.1, -0.3, -0.7],
]

# ---------------- dotted envelopes (x, upper, lower) ----------------
flat_x = [-1.0, 1.0]
porb_prior_env = (flat_x, [0.71, 0.71], [-0.71, -0.71])
gp_prior_env = (flat_x, [0.71, 0.71], [-0.71, -0.71])
rbfn_prior_env = ([-1.0, -0.7, -0.4, -0.1, 0.2, 0.5, 0.8, 1.0],
                  [0.68, 0.55, 0.38, 0.42, 0.52, 0.50, 0.46, 0.46],
                  [-0.65, -0.55, -0.38, -0.34, -0.30, -0.33, -0.42, -0.46])
bnn_prior_env = ([-1.0, -0.75, -0.5, -0.25, 0.0, 0.25, 0.5, 0.75, 1.0],
                 [0.59, 0.72, 0.85, 1.0, 1.16, 1.0, 0.84, 0.68, 0.52],
                 [-0.56, -0.70, -0.84, -0.98, -1.15, -0.98, -0.84, -0.70, -0.56])

porb_up_env = (flat_x, [0.72, 0.72], [-0.70, -0.70])
gp_up_env = (flat_x, [0.72, 0.72], [-0.70, -0.70])
rbfn_up_env = ([-1.0, -0.97, -0.6, -0.565, -0.52, -0.46, -0.405, -0.36, -0.32, -0.25, -0.155,
                -0.085, -0.04, -0.01, 0.1, 0.17, 0.235, 0.30, 0.37, 0.44, 0.49, 0.51, 0.53, 0.8, 1.0],
               [2.1, 3.5, 3.5, 3.0, 2.28, 2.07, 2.37, 2.72, 3.0, 3.1, 2.54,
                1.75, 1.4, 3.2, 3.5, 3.0, 2.37, 2.02, 2.37, 3.0, 2.63, 1.58, 3.3, 3.5, 3.5],
               [-2.1, -3.5, -3.5, -3.0, -2.28, -2.0, -2.46, -3.0, -3.3, -3.0, -2.46,
                -1.58, -1.3, -3.2, -3.5, -3.0, -2.28, -1.93, -2.28, -2.7, -1.75, -3.0, -3.3, -3.5, -3.5])
bnn_up_env = ([-1.0, -0.67, -0.41, -0.22, -0.13, 0.0, 0.1, 0.24, 0.42, 0.69, 1.0],
              [0.26, 0.40, 0.70, 1.04, 1.30, 1.74, 1.22, 0.78, 0.52, 0.35, 0.23],
              [-0.22, -0.35, -0.69, -1.13, -1.47, -1.68, -1.30, -0.78, -0.52, -0.35, -0.17])

porb_amp_env = (flat_x, [1.42, 1.42], [-1.44, -1.44])
gp_amp_env = ([-1.0, 0.0, 1.0], [1.50, 1.45, 1.41], [-1.40, -1.40, -1.42])
rbfn_amp_env = ([-1.0, -0.84, -0.73, -0.66, -0.61, -0.57, -0.52, -0.47, -0.41, -0.245,
                 -0.085, 0.007, 0.19, 0.40, 0.53, 0.59, 0.72, 0.785, 0.88, 1.0],
                [2.0, 0.75, 1.82, 2.14, 2.09, 1.2, 1.55, 2.18, 0.84, 0.57,
                 0.66, 0.75, 0.48, 0.66, 1.2, 1.32, 0.84, 0.57, 0.66, 0.84],
                [-1.93, -0.59, -1.3, -2.1, -2.1, -1.21, -1.57, -2.14, -0.86, -0.59,
                 -0.68, -0.77, -0.32, -0.59, -1.12, -1.3, -0.86, -0.54, -0.59, -0.77])
bnn_amp_env = ([-1.0, -0.71, -0.49, -0.26, -0.08, 0.0, 0.145, 0.33, 0.55, 0.78, 1.0],
               [1.15, 1.57, 1.88, 2.19, 2.37, 2.37, 2.26, 1.97, 1.67, 1.39, 1.15],
               [-1.08, -1.51, -1.86, -2.17, -2.30, -2.30, -2.21, -1.91, -1.60, -1.34, -1.11])

panels = [
    [(x13, porb_prior, porb_prior_env), (x13, gp_prior, gp_prior_env),
     (x13, rbfn_prior, rbfn_prior_env), (x13, bnn_prior, bnn_prior_env)],
    [(x41, porb_up, porb_up_env), (x41, gp_up, gp_up_env),
     (x41, rbfn_up, rbfn_up_env), (x17, bnn_up, bnn_up_env)],
    [(x13, porb_amp, porb_amp_env), (x13, gp_amp, gp_amp_env),
     (x41, rbfn_amp, rbfn_amp_env), (x13, bnn_amp, bnn_amp_env)],
]

fig = plt.figure(figsize=(8.54, 4.35), dpi=100)
lefts = [0.137, 0.363, 0.588, 0.814]
bottoms = [0.676, 0.364, 0.052]
w, h = 0.187, 0.262
label_y = [0.807, 0.49, 0.175]

for r in range(3):
    for c in range(4):
        ax = fig.add_axes([lefts[c], bottoms[r], w, h])
        xs, curves, env = panels[r][c]
        for ys in curves:
            ax.plot(xs, ys, color="red", alpha=0.2, lw=1.1)
        ex, up, lo = env
        ax.plot(ex, up, color="black", ls=(0, (1, 1.8)), lw=1.4)
        ax.plot(ex, lo, color="black", ls=(0, (1, 1.8)), lw=1.4)
        ax.set_xlim(-1.1, 1.1)
        ax.set_ylim(-3, 3)
        ax.set_xticks([-1, 0, 1])
        ax.set_yticks([-2, 0, 2])
        ax.grid(True, color="#b0b0b0", lw=0.8)
        ax.tick_params(labelsize=9, pad=2.5)
        if r < 2:
            ax.set_xticklabels([])
        if c > 0:
            ax.set_yticklabels([])
        if r == 0:
            ax.set_title(titles[c], fontsize=10)
        if c == 3 and r < 2:
            ax.set_xlabel("x", fontsize=10, labelpad=-2)
    fig.text(0.009, label_y[r], row_labels[r], fontsize=11, va="center", ha="left")

fig.savefig("out.png", dpi=100)
